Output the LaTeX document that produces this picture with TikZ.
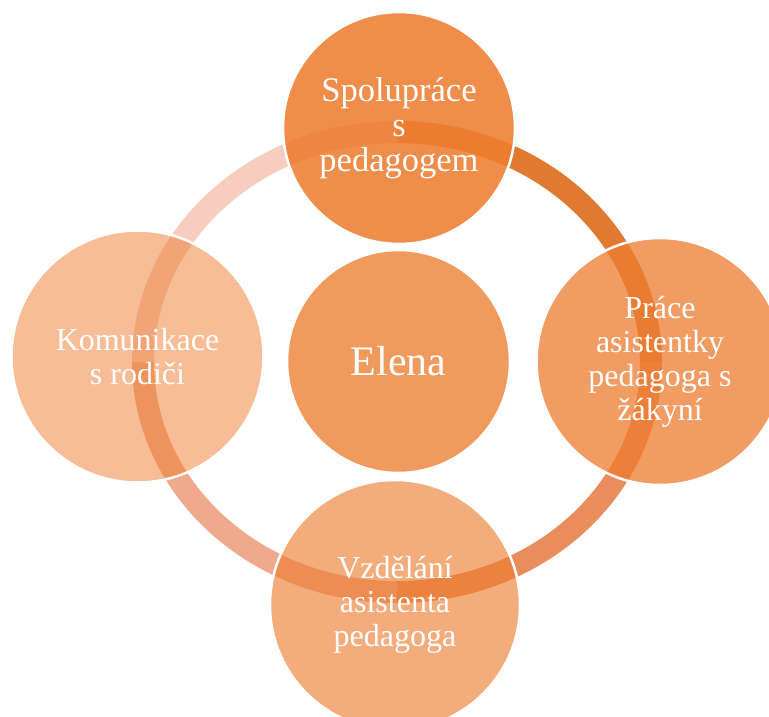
\documentclass[tikz,border=0pt]{standalone}
\usepackage{fontspec}
\setmainfont{Liberation Serif}
\usetikzlibrary{calc}
\definecolor{accent}{RGB}{237,125,49}
\definecolor{arcA}{RGB}{224,122,48}
\definecolor{arcB}{RGB}{233,141,92}
\definecolor{arcC}{RGB}{239,170,141}
\definecolor{arcD}{RGB}{246,205,190}
\tikzstyle{bubble} = [circle, inner sep=0pt, fill=accent, draw=white, line width=2.5pt,
text=white, text opacity=1, align=center, font=\fontsize{32}{34}\selectfont]
\tikzstyle{band} = [line width=22pt]

\begin{document}
\begin{tikzpicture}[x=1pt, y=-1pt]
        \useasboundingbox (0,0) rectangle (769,717);
        \clip (0,0) rectangle (769,717);
        \coordinate (ring) at (397,362);

        % the ring, one quarter per pair of neighbours
        \draw [band, arcA] ($(ring)+(-90:254 and 230)$) arc[start angle=-90, end angle=0, x radius=254, y radius=230];
        \draw [band, arcB] ($(ring)+(0:254 and 230)$) arc[start angle=0, end angle=90, x radius=254, y radius=230];
        \draw [band, arcC] ($(ring)+(90:254 and 230)$) arc[start angle=90, end angle=180, x radius=254, y radius=230];
        \draw [band, arcD] ($(ring)+(180:254 and 230)$) arc[start angle=180, end angle=270, x radius=254, y radius=230];

        \node (E) [bubble, minimum size=223pt, fill opacity=0.78, font=\fontsize{42}{44}\selectfont] at (398.5,361.5) {Elena};
        \node (S) [bubble, minimum size=232pt, fill opacity=0.88, font=\fontsize{34.5}{35}\selectfont] at (399,128) {Spolupráce\\s\\pedagogem};
        \node (P) [bubble, minimum size=247pt, fill opacity=0.76] at (660,361.5) {Práce\\asistentky\\pedagoga s\\žákyní};
        \node (V) [bubble, minimum size=250pt, fill opacity=0.64] at (395,605) {Vzdělání\\asistenta\\pedagoga};
        \node (K) [bubble, minimum size=252pt, fill opacity=0.51] at (137.5,356.5) {Komunikace\\s rodiči};

    \end{tikzpicture}
\end{document}
